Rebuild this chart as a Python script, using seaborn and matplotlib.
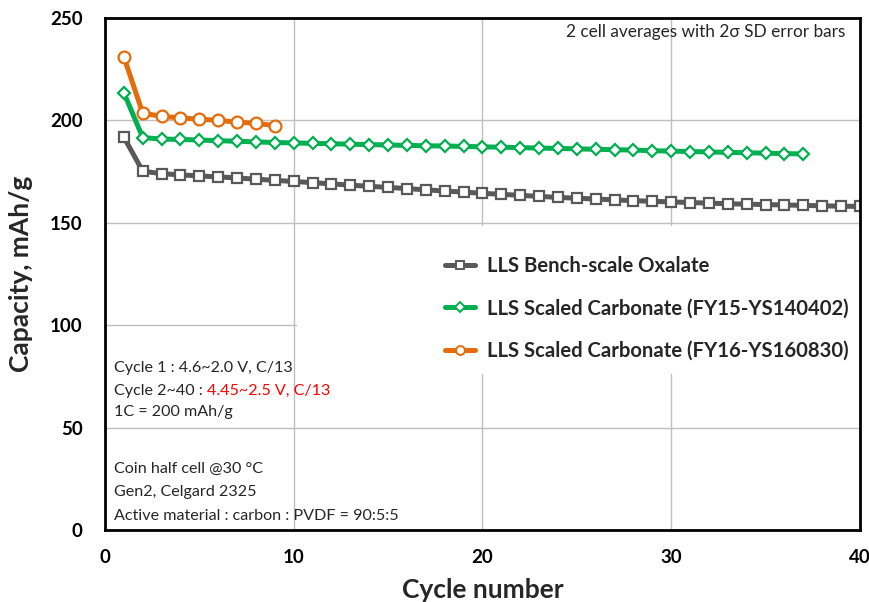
import matplotlib
matplotlib.use("Agg")
import matplotlib.pyplot as plt
import seaborn as sns
import pandas as pd
from matplotlib.lines import Line2D
from matplotlib.patches import Rectangle

# ---------------- data ----------------
oxalate = [191.8, 175.2, 174.0, 173.4, 172.9, 172.4, 171.9, 171.3, 170.7, 170.2,
           169.6, 169.0, 168.4, 167.8, 167.3, 166.7, 166.1, 165.5, 165.0, 164.4,
           163.9, 163.4, 162.9, 162.4, 162.0, 161.6, 161.2, 160.8, 160.5, 160.2,
           159.9, 159.6, 159.3, 159.1, 158.9, 158.7, 158.5, 158.3, 158.1, 158.0]
carb15 = [213.5, 191.6, 190.9, 190.7, 190.4, 190.1, 189.8, 189.5, 189.2, 189.0,
          188.8, 188.6, 188.4, 188.2, 188.0, 187.8, 187.6, 187.5, 187.3, 187.1,
          186.9, 186.7, 186.5, 186.3, 186.1, 185.9, 185.7, 185.5, 185.2, 185.0,
          184.8, 184.6, 184.4, 184.2, 184.0, 183.8, 183.6]
carb16 = [231.0, 203.5, 202.0, 201.2, 200.6, 200.0, 199.2, 198.5, 197.5]

labels = ["LLS Bench-scale Oxalate",
          "LLS Scaled Carbonate (FY15-YS140402)",
          "LLS Scaled Carbonate (FY16-YS160830)"]
colors = ["#595959", "#00B050", "#E46C0A"]
markers = ["s", "D", "o"]
msizes = [6.8, 6.5, 8.5]

x_ticks = [0, 10, 20, 30, 40]
y_ticks = [0, 50, 100, 150, 200, 250]

series = [oxalate, carb15, carb16]

# ---------------- figure ----------------
sns.set_style("white")
plt.rcParams["font.family"] = ["Lato", "DejaVu Sans"]

fig = plt.figure(figsize=(8.7, 6.02), dpi=100)
ax = fig.add_axes([105 / 870, 1 - 530 / 602, 755 / 870, 512 / 602])

for vals, lab, col, mk, ms in zip(series, labels, colors, markers, msizes):
    df = pd.DataFrame({"cycle": list(range(1, len(vals) + 1)), "cap": vals})
    sns.lineplot(data=df, x="cycle", y="cap", ax=ax, color=col, linewidth=3.6,
                 marker=mk, markersize=ms, markerfacecolor="white",
                 markeredgecolor=col, markeredgewidth=1.6, legend=False,
                 solid_capstyle="butt")

ax.set_xlim(0, 40)
ax.set_ylim(0, 250)
ax.set_xticks(x_ticks)
ax.set_yticks(y_ticks)
ax.set_axisbelow(True)
ax.grid(True, color="#BFBFBF", linewidth=1.0)
for sp in ax.spines.values():
    sp.set_color("black")
    sp.set_linewidth(2.0)
    sp.set_visible(True)
ax.tick_params(axis="both", length=0, labelsize=13.5, colors="black")
ax.tick_params(axis="x", pad=14)
ax.tick_params(axis="y", pad=16)
for t in ax.get_xticklabels() + ax.get_yticklabels():
    t.set_fontweight("bold")

ax.set_xlabel("Cycle number", fontsize=19, fontweight="bold", labelpad=8)
ax.set_ylabel("Capacity, mAh/g", fontsize=19, fontweight="bold", labelpad=12)

# white box behind legend (covers gridlines)
ax.add_patch(Rectangle((0.2545, 0.305), 0.75, 0.289, transform=ax.transAxes,
                       facecolor="white", edgecolor="none", zorder=1.5))

handles = [Line2D([0], [0], color=c, linewidth=3.6, marker=m, markersize=ms * 0.75,
                  markerfacecolor="white", markeredgecolor=c, markeredgewidth=1.4)
           for c, m, ms in zip(colors, markers, msizes)]
leg = ax.legend(handles, labels, loc="upper left", bbox_to_anchor=(0.450, 0.535),
                frameon=False, prop={"weight": "bold", "size": 14.6},
                handlelength=1.5, handletextpad=0.6, labelspacing=1.1,
                borderpad=0, borderaxespad=0)
leg.set_zorder(3)

# annotations
fs = 11.6
ax.text(0.980, 0.973, "2 cell averages with 2σ SD error bars", transform=ax.transAxes,
        ha="right", va="center", fontsize=12.4, zorder=4)
ax.text(0.012, 0.316, "Cycle 1 : 4.6~2.0 V, C/13", transform=ax.transAxes,
        ha="left", va="center", fontsize=fs, zorder=4)
t1 = ax.text(0.012, 0.271, "Cycle 2~40 : ", transform=ax.transAxes,
             ha="left", va="center", fontsize=fs, zorder=4)
ax.annotate("4.45~2.5 V, C/13", xy=(1, 0.5), xycoords=t1, ha="left", va="center",
            fontsize=fs, color="#FF0000", zorder=4)
ax.text(0.012, 0.230, "1C = 200 mAh/g", transform=ax.transAxes,
        ha="left", va="center", fontsize=fs, zorder=4)
ax.text(0.012, 0.119, "Coin half cell @30 °C", transform=ax.transAxes,
        ha="left", va="center", fontsize=fs, zorder=4)
ax.text(0.012, 0.074, "Gen2, Celgard 2325", transform=ax.transAxes,
        ha="left", va="center", fontsize=fs, zorder=4)
ax.text(0.012, 0.027, "Active material : carbon : PVDF = 90:5:5", transform=ax.transAxes,
        ha="left", va="center", fontsize=fs, zorder=4)

fig.savefig("out.png", dpi=100)
